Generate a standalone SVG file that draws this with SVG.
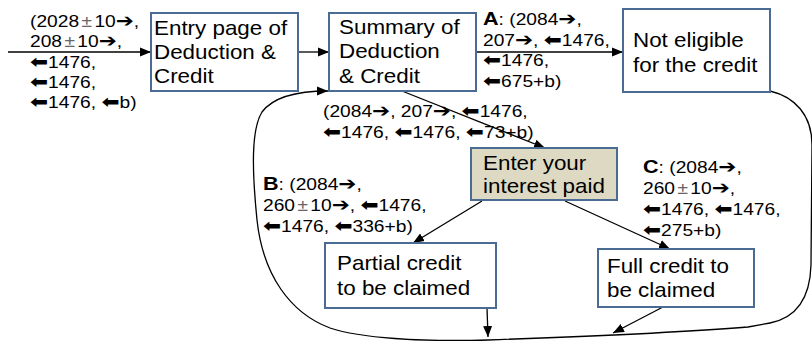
<svg xmlns="http://www.w3.org/2000/svg" width="812" height="341" viewBox="0 0 812 341">
  <style>
    .box { fill: #ffffff; stroke: #4a6b94; stroke-width: 2; }
    .box.tan { fill: #ddd9c3; }
    .bt { font-family: "Liberation Sans", Arial, sans-serif; font-size: 20px; fill: #000; }
    .lb { font-family: "Liberation Sans", Arial, sans-serif; font-size: 16px; fill: #000; }
    .ar { font-family: "DejaVu Sans", sans-serif; font-weight: bold; font-size: 18px; }
    .pm { fill: #666; }
    .key { font-weight: bold; font-size: 18px; }
    .edge { fill: none; stroke: #000; stroke-width: 1.3; }
  </style>
  <defs>
    <marker id="ah" markerUnits="userSpaceOnUse" markerWidth="12" markerHeight="10" refX="11" refY="5" orient="auto">
      <path d="M0,0.5 L11,5 L0,9.5 Z" fill="#000"/>
    </marker>
  </defs>

  <rect width="812" height="341" fill="#ffffff"/>

  <!-- connectors -->
  <g id="connectors">
    <path class="edge" d="M8,52 L151,52" marker-end="url(#ah)"/>
    <path class="edge" d="M298,52 L329,52" marker-end="url(#ah)"/>
    <path class="edge" d="M476,52 L623,52" marker-end="url(#ah)"/>
    <path class="edge" d="M402,91 L545,148" marker-end="url(#ah)"/>
    <path class="edge" d="M482,201 L413,243" marker-end="url(#ah)"/>
    <path class="edge" d="M565,201 L670,249" marker-end="url(#ah)"/>
    <path class="edge" d="M487,308 L488,337" marker-end="url(#ah)"/>
    <path class="edge" d="M663,307 L613,333" marker-end="url(#ah)"/>
    <!-- return loop from the outcome boxes back to the summary page -->
    <path class="edge" d="M770,91 C795,97 812,115 812,145 L811,265 C810,300 795,318 770,323 L748,327 C700,331 600,336 488,340 C420,342 360,338 330,328 C290,313 263,275 257,220 C252,170 251,130 262,112 C274,96 298,91 328,91" marker-end="url(#ah)"/>
  </g>

  <!-- nodes -->
  <g id="entry">
    <rect class="box" x="151" y="13" width="147" height="78"/>
    <text class="bt" transform="translate(154,0) scale(1.12,1)"><tspan x="0" y="35">Entry page of</tspan><tspan x="0" y="59">Deduction &amp;</tspan><tspan x="0" y="83">Credit</tspan></text>
  </g>

  <g id="summary">
    <rect class="box" x="329" y="13" width="147" height="78"/>
    <text class="bt" transform="translate(339,0) scale(1.12,1)"><tspan x="0" y="34">Summary of</tspan><tspan x="0" y="58">Deduction</tspan><tspan x="0" y="83">&amp; Credit</tspan></text>
  </g>

  <g id="not-eligible">
    <rect class="box" x="623" y="9" width="147" height="83"/>
    <text class="bt" transform="translate(633,0) scale(1.12,1)"><tspan x="0" y="47">Not eligible</tspan><tspan x="0" y="72">for the credit</tspan></text>
  </g>

  <g id="interest">
    <rect class="box tan" x="471" y="148" width="146" height="52"/>
    <text class="bt" transform="translate(483,0) scale(1.12,1)"><tspan x="0" y="170">Enter your</tspan><tspan x="0" y="193">interest paid</tspan></text>
  </g>

  <g id="partial">
    <rect class="box" x="325" y="243" width="171" height="65"/>
    <text class="bt" transform="translate(337,0) scale(1.12,1)"><tspan x="0" y="270">Partial credit</tspan><tspan x="0" y="295">to be claimed</tspan></text>
  </g>

  <g id="full">
    <rect class="box" x="598" y="249" width="156" height="58"/>
    <text class="bt" transform="translate(607,0) scale(1.12,1)"><tspan x="0" y="273">Full credit to</tspan><tspan x="0" y="297">be claimed</tspan></text>
  </g>

  <!-- connector labels -->
  <g id="labels">
    <text class="lb" transform="translate(30,0) scale(1.2,1)">
      <tspan x="0" y="27">(2028<tspan class="pm" dx="2">±</tspan><tspan dx="2">10</tspan><tspan class="ar">➔</tspan>,</tspan>
      <tspan x="0" y="47">208<tspan class="pm" dx="2">±</tspan><tspan dx="2">10</tspan><tspan class="ar">➔</tspan>,</tspan>
      <tspan x="0" y="68"><tspan class="ar">⬅</tspan>1476,</tspan>
      <tspan x="0" y="88"><tspan class="ar">⬅</tspan>1476,</tspan>
      <tspan x="0" y="108"><tspan class="ar">⬅</tspan>1476, <tspan class="ar">⬅</tspan>b)</tspan>
    </text>

    <text class="lb" transform="translate(483,0) scale(1.2,1)">
      <tspan x="0" y="25"><tspan class="key">A</tspan>: (2084<tspan class="ar">➔</tspan>,</tspan>
      <tspan x="0" y="46">207<tspan class="ar">➔</tspan>, <tspan class="ar">⬅</tspan>1476,</tspan>
      <tspan x="0" y="66"><tspan class="ar">⬅</tspan>1476,</tspan>
      <tspan x="0" y="87"><tspan class="ar">⬅</tspan>675+b)</tspan>
    </text>

    <text class="lb" transform="translate(323,0) scale(1.2,1)">
      <tspan x="0" y="117">(2084<tspan class="ar">➔</tspan>, 207<tspan class="ar">➔</tspan>, <tspan class="ar">⬅</tspan>1476,</tspan>
      <tspan x="0" y="138"><tspan class="ar">⬅</tspan>1476, <tspan class="ar">⬅</tspan>1476, <tspan class="ar">⬅</tspan>73+b)</tspan>
    </text>

    <text class="lb" transform="translate(263,0) scale(1.2,1)">
      <tspan x="0" y="190"><tspan class="key">B</tspan>:  (2084<tspan class="ar">➔</tspan>,</tspan>
      <tspan x="0" y="211">260<tspan class="pm" dx="2">±</tspan><tspan dx="2">10</tspan><tspan class="ar">➔</tspan>, <tspan class="ar">⬅</tspan>1476,</tspan>
      <tspan x="0" y="232"><tspan class="ar">⬅</tspan>1476, <tspan class="ar">⬅</tspan>336+b)</tspan>
    </text>

    <text class="lb" transform="translate(643,0) scale(1.2,1)">
      <tspan x="0" y="173"><tspan class="key">C</tspan>: (2084<tspan class="ar">➔</tspan>,</tspan>
      <tspan x="0" y="194">260<tspan class="pm" dx="2">±</tspan><tspan dx="2">10</tspan><tspan class="ar">➔</tspan>,</tspan>
      <tspan x="0" y="215"><tspan class="ar">⬅</tspan>1476, <tspan class="ar">⬅</tspan>1476,</tspan>
      <tspan x="0" y="236"><tspan class="ar">⬅</tspan>275+b)</tspan>
    </text>
  </g>
</svg>
